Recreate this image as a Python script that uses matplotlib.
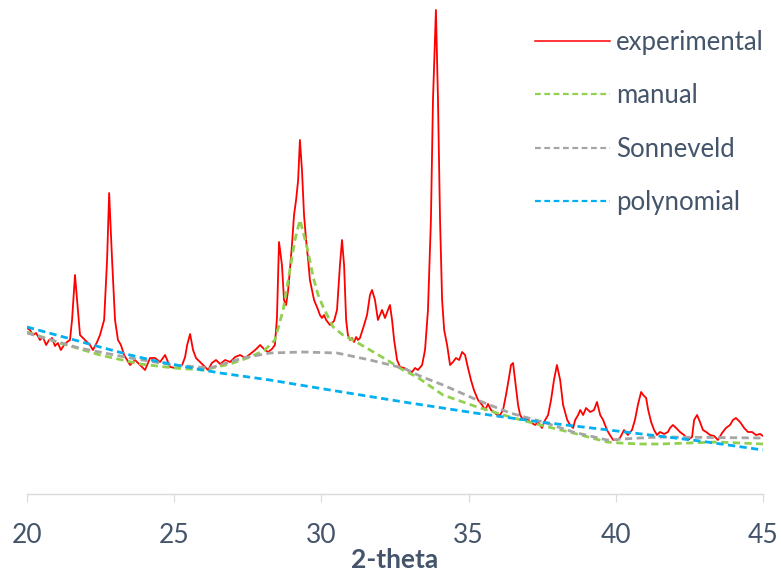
import matplotlib
matplotlib.use("Agg")
import matplotlib.pyplot as plt
from matplotlib.lines import Line2D

plt.rcParams['font.family'] = ['Lato', 'DejaVu Sans']

# Measured diffraction pattern (2-theta in degrees, intensity in arbitrary units)
exp_2theta = [
    20.00, 20.10, 20.20, 20.31, 20.44, 20.54, 20.65, 20.75, 20.85, 20.95,
    21.05, 21.15, 21.26, 21.36, 21.46, 21.53, 21.63, 21.70, 21.80, 21.97,
    22.14, 22.24, 22.38, 22.48, 22.62, 22.72, 22.79, 22.89, 22.99, 23.09,
    23.19, 23.30, 23.40, 23.50, 23.67, 23.84, 24.01, 24.18, 24.35, 24.52,
    24.69, 24.86, 25.03, 25.13, 25.27, 25.37, 25.44, 25.54, 25.64, 25.74,
    25.88, 26.05, 26.15, 26.28, 26.42, 26.56, 26.73, 26.90, 27.07, 27.24,
    27.41, 27.58, 27.75, 27.92, 28.08, 28.19, 28.32, 28.42, 28.49, 28.56,
    28.66, 28.73, 28.80, 28.87, 28.93, 29.00, 29.07, 29.14, 29.21, 29.27,
    29.34, 29.41, 29.48, 29.55, 29.61, 29.68, 29.75, 29.82, 29.89, 29.95,
    30.02, 30.09, 30.16, 30.29, 30.43, 30.53, 30.63, 30.70, 30.77, 30.84,
    30.90, 30.97, 31.04, 31.11, 31.18, 31.24, 31.31, 31.45, 31.55, 31.65,
    31.72, 31.82, 31.92, 32.06, 32.16, 32.26, 32.33, 32.40, 32.47, 32.57,
    32.67, 32.81, 32.94, 33.08, 33.18, 33.28, 33.42, 33.52, 33.62, 33.72,
    33.79, 33.89, 33.96, 34.03, 34.10, 34.17, 34.27, 34.37, 34.47, 34.57,
    34.68, 34.78, 34.88, 34.98, 35.08, 35.18, 35.32, 35.46, 35.56, 35.66,
    35.76, 35.86, 35.97, 36.07, 36.17, 36.27, 36.37, 36.44, 36.51, 36.58,
    36.68, 36.75, 36.85, 36.95, 37.09, 37.26, 37.36, 37.49, 37.60, 37.70,
    37.80, 37.90, 38.00, 38.11, 38.21, 38.35, 38.45, 38.55, 38.62, 38.72,
    38.79, 38.89, 38.99, 39.13, 39.26, 39.36, 39.47, 39.57, 39.70, 39.80,
    39.91, 40.04, 40.14, 40.28, 40.41, 40.55, 40.65, 40.75, 40.86, 40.93,
    41.03, 41.10, 41.20, 41.30, 41.40, 41.50, 41.64, 41.77, 41.84, 41.94,
    42.05, 42.18, 42.32, 42.45, 42.59, 42.66, 42.76, 42.86, 42.96, 43.07,
    43.20, 43.34, 43.47, 43.61, 43.74, 43.88, 43.98, 44.08, 44.22, 44.36,
    44.49, 44.63, 44.76, 44.90, 45.00,
]
exp_intensity = [
    166, 164, 159, 161, 154, 157, 149, 154, 156, 148,
    151, 144, 149, 152, 154, 174, 219, 194, 159, 154,
    149, 144, 152, 159, 174, 234, 301, 234, 174, 154,
    149, 139, 134, 129, 134, 129, 124, 136, 136, 132,
    139, 127, 126, 126, 129, 137, 149, 160, 144, 136,
    132, 127, 124, 131, 134, 130, 134, 132, 137, 139,
    136, 140, 144, 149, 144, 142, 145, 149, 176, 252,
    229, 194, 189, 204, 224, 249, 279, 294, 314, 354,
    324, 279, 254, 234, 214, 204, 194, 189, 184, 179,
    176, 179, 174, 169, 173, 184, 229, 254, 229, 174,
    159, 154, 156, 152, 157, 154, 156, 169, 179, 199,
    204, 194, 174, 184, 176, 184, 189, 174, 154, 134,
    127, 126, 124, 122, 126, 124, 129, 144, 184, 274,
    394, 484, 394, 274, 194, 164, 149, 129, 132, 136,
    134, 142, 139, 126, 114, 104, 94, 89, 84, 90,
    84, 82, 79, 79, 84, 99, 116, 129, 131, 114,
    89, 79, 74, 76, 72, 69, 72, 66, 74, 79,
    94, 114, 129, 114, 89, 74, 69, 66, 74, 79,
    84, 79, 86, 82, 84, 92, 79, 74, 64, 59,
    54, 54, 56, 64, 59, 64, 74, 89, 102, 99,
    96, 84, 72, 64, 59, 62, 60, 62, 66, 69,
    66, 62, 59, 54, 57, 74, 79, 72, 64, 62,
    59, 58, 54, 61, 66, 69, 74, 76, 72, 66,
    62, 62, 59, 60, 58,
]

# Background estimated by hand
manual_2theta = [20.00, 21.12, 22.48, 23.84, 24.99, 25.98, 26.90, 27.58, 28.08,
                 28.42, 28.70, 28.93, 29.10, 29.27, 29.38, 29.51, 29.72, 29.89,
                 30.06, 30.40, 30.73, 31.07, 31.65, 32.23, 32.77, 33.25, 34.13,
                 35.29, 36.41, 37.43, 38.55, 39.70, 40.14, 40.82, 41.50, 43.44,
                 45.00]
manual_intensity = [162, 151, 139, 130, 126, 124, 130, 137, 144,
                    154, 184, 224, 254, 274, 262, 247, 217, 199,
                    187, 167, 159, 154, 144, 134, 124, 117, 99,
                    87, 77, 69, 61, 52, 51, 50, 50, 52,
                    50]

# Sonneveld-Visser background
sonneveld_2theta = [20.00, 21.77, 23.50, 24.96, 26.22, 27.34, 28.25, 29.38, 30.53,
                    31.65, 32.77, 33.35, 34.13, 35.29, 36.41, 37.53, 38.55, 39.70,
                    40.82, 41.50, 45.00]
sonneveld_intensity = [161, 146, 136, 129, 126, 136, 141, 142, 141,
                       134, 126, 118, 109, 94, 81, 72, 62, 54,
                       56, 57, 56]

# Polynomial background
poly_2theta = [20.00, 21.12, 22.48, 23.50, 24.52, 25.98, 26.56, 28.25, 30.29,
               33.01, 35.22, 37.43, 39.47, 41.16, 42.86, 45.00]
poly_intensity = [167, 158, 147, 139, 132, 124, 121, 114, 104,
                  91, 81, 72, 65, 59, 53, 44]

x_ticks = [20, 25, 30, 35, 40, 45]

TEXT = '#44546A'
AXIS = '#D9D9D9'

fig = plt.figure(figsize=(7.81, 5.75), dpi=100)
ax = fig.add_axes([27 / 781, 81 / 575, 736 / 781, 486 / 575])

dash = (0, (2.6, 1.6))
ax.plot(exp_2theta, exp_intensity, color='#FF0000', lw=1.3, label='experimental', zorder=3)
ax.plot(manual_2theta, manual_intensity, color='#92D050', lw=2.0, ls=dash, label='manual', zorder=4)
ax.plot(sonneveld_2theta, sonneveld_intensity, color='#A5A5A5', lw=2.0, ls=dash, label='Sonneveld', zorder=4)
ax.plot(poly_2theta, poly_intensity, color='#00B0F0', lw=2.0, ls=dash, label='polynomial', zorder=4)

ax.set_xlim(20, 45)
ax.set_ylim(0, 486)
ax.set_xticks(x_ticks)
ax.set_yticks([])
for side in ('left', 'right', 'top'):
    ax.spines[side].set_visible(False)
ax.spines['bottom'].set_color(AXIS)
ax.spines['bottom'].set_linewidth(1.0)
ax.tick_params(axis='x', direction='out', length=6, width=0.8, color=AXIS,
               labelsize=19, labelcolor=TEXT, pad=15)
ax.set_xlabel('2-theta', fontsize=19, fontweight='bold', color=TEXT, labelpad=0)

handles = [
    Line2D([], [], color='#FF0000', lw=1.1),
    Line2D([], [], color='#92D050', lw=1.6, ls=(0, (2.6, 1.6))),
    Line2D([], [], color='#A5A5A5', lw=1.6, ls=(0, (2.6, 1.6))),
    Line2D([], [], color='#00B0F0', lw=1.6, ls=(0, (2.6, 1.6))),
]
leg = fig.legend(handles, ['experimental', 'manual', 'Sonneveld', 'polynomial'],
                 loc='upper left', bbox_to_anchor=(535 / 781, 1 - 30 / 575),
                 frameon=False, fontsize=18.5, handlelength=2.9, handletextpad=0.25,
                 labelspacing=1.1, borderpad=0, borderaxespad=0)
for t in leg.get_texts():
    t.set_color(TEXT)

fig.savefig('out.png', dpi=100)
